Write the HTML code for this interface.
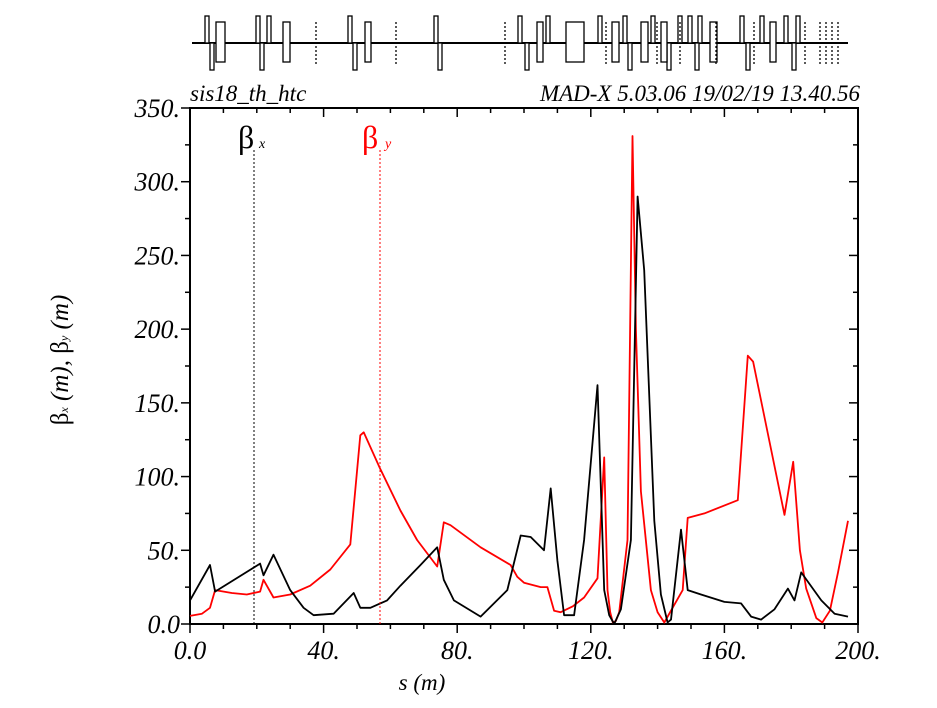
<!DOCTYPE html>
<html><head><meta charset="utf-8"><style>
html,body{margin:0;padding:0;background:#fff}
svg{display:block}
text{font-family:"Liberation Serif","DejaVu Serif",serif;font-style:italic}
.up{font-style:normal}
</style></head><body>
<svg id="chart" width="937" height="708" viewBox="0 0 937 708" xmlns="http://www.w3.org/2000/svg">
<g id="lattice"></g>
<text x="190" y="101" font-size="23">sis18_th_htc</text>
<text x="860" y="101" font-size="23" text-anchor="end">MAD-X 5.03.06  19/02/19 13.40.56</text>
<g id="axes"></g>
<g id="series"></g>
<text x="422" y="690" font-size="23" text-anchor="middle">s (m)</text>
<text transform="translate(68,360) rotate(-90)" font-size="25" text-anchor="middle"><tspan class="up">β</tspan><tspan font-size="12">x</tspan> (m),  <tspan class="up">β</tspan><tspan font-size="12">y</tspan> (m)</text>
<g>
<text x="238" y="148" font-size="32" class="up">β</text><text x="259" y="148" font-size="14">x</text>
<line x1="254" y1="150" x2="254" y2="624" stroke="#000" stroke-width="1" stroke-dasharray="2,2"/>
</g>
<g>
<text x="362" y="148" font-size="32" class="up" fill="#f00">β</text><text x="385" y="148" font-size="14" fill="#f00">y</text>
<line x1="380" y1="150" x2="380" y2="624" stroke="#f00" stroke-width="1" stroke-dasharray="2,2"/>
</g>
</svg>
<script>
const sBx=[0,6,7.5,21,22,25,30,34,37,43,49,51,54,59,63,69,74,76,79,87,95,99,102,106,108,110,112,115,118,122,124,125.5,127,129,132,134,136,139,141,143,144,147,149,153,160,165,168,171,175,179,181,183,189,193,197];
const vBx=[16,40,22,41,33,47,23,11,6,7,21,11,11,16,26,40,52,30,16,5,23,60,59,50,92,43,6,6,57,162,23,6,0,10,57,290,240,70,20,1,3,64,23,20,15,14,5,3,10,24,16,35,16,7,5];
const sBy=[0,3.6,6,7.5,12.5,17,21,22,25,30,36,42,48,51,52,57,63,68,74,76,78,87,96,98,100,105,107,109,111,114.6,118,122,124,125,125.8,126.6,127.5,128.5,131,132.5,133.5,135,138,140,142,144.5,147.5,149,154,164,167,168.6,178,180.6,182.6,184.5,187.5,189.3,191.6,194,197];
const vBy=[5.5,7,11,23,21,20,22,30,18,20,26,37,54,128,130,105,77,57,39,69,67,52,40,32,28,25,25,9,8,12,18,31,113,23,8,1,2,8,57,331,200,90,23,8,1,11,23,72,75,84,182,178,74,110,50,24,4,1,9,35,70];
const xTicks=[0,40,80,120,160,200];
const xTickLabels=["0.0","40.","80.","120.","160.","200."];
const yTicks=[0,50,100,150,200,250,300,350];
const yTickLabels=["0.0","50.","100.","150.","200.","250.","300.","350."];
const latticeUp=[207,258,269,350,436,520,548,600,625,653,680,690,700,742,762,786,798];
const latticeDown=[212,262,355,440,527,630,669,697,748,794];
const latticeBoxes=[[216,225,22,62],[283,290,22,62],[365,371,22,62],[537,543,22,62],[566,584,22,62],[612,619,22,62],[641,648,22,62],[661,667,22,62],[710,717,22,62],[770,776,22,62]];
const latticeDots=[316,396,505,606,657,680,716,754,805,820,826,832,838];

const NS="http://www.w3.org/2000/svg";
const L=190,R=858,T=108,B=624;
function X(s){return L+(s/200)*(R-L);}
function Y(v){return B-(v/350)*(B-T);}
function mk(tag,attrs,parent){const e=document.createElementNS(NS,tag);for(const k in attrs)e.setAttribute(k,attrs[k]);parent.appendChild(e);return e;}

const lat=document.getElementById('lattice');
const bl=mk('line',{x1:192,y1:43,x2:848,y2:43,stroke:'#000','stroke-width':2},lat);


latticeUp.forEach(x=>{const r=mk('rect',{x:x-2,y:16,width:4,height:27,fill:'#fff',stroke:'#000','stroke-width':1.3},lat);

});
latticeDown.forEach(x=>{const r=mk('rect',{x:x-2,y:43,width:4,height:27,fill:'#fff',stroke:'#000','stroke-width':1.3},lat);

});
latticeBoxes.forEach(b=>{const r=mk('rect',{x:b[0],y:b[2],width:b[1]-b[0],height:b[3]-b[2],fill:'#fff',stroke:'#000','stroke-width':1.3},lat);

});
latticeDots.forEach(x=>{const r=mk('line',{x1:x,y1:22,x2:x,y2:64,stroke:'#000','stroke-width':1.3,'stroke-dasharray':'2,2'},lat);

});

const ax=document.getElementById('axes');
const fr=mk('rect',{x:L,y:T,width:R-L,height:B-T,fill:'none',stroke:'#000','stroke-width':2},ax);


for(let s=0;s<=200;s+=10){const maj=s%40===0;
 const t=mk('line',{x1:X(s),y1:B,x2:X(s),y2:B+(maj?9:5),stroke:'#000','stroke-width':1.5},ax);
 
 
 const t2=mk('line',{x1:X(s),y1:T,x2:X(s),y2:T+(maj?9:5),stroke:'#000','stroke-width':1.5},ax);
 
 }
xTicks.forEach((s,i)=>{const t=mk('text',{x:X(s),y:B+35,'font-size':26,'text-anchor':'middle'},ax);t.textContent=xTickLabels[i];

});
for(let v=0;v<=350;v+=25){const maj=v%50===0;
 const t=mk('line',{x1:L-(maj?9:5),y1:Y(v),x2:L,y2:Y(v),stroke:'#000','stroke-width':1.5},ax);
 
 
 const t2=mk('line',{x1:R-(maj?9:5),y1:Y(v),x2:R,y2:Y(v),stroke:'#000','stroke-width':1.5},ax);
 
 }
yTicks.forEach((v,i)=>{const t=mk('text',{x:L-10,y:Y(v)+9,'font-size':26,'text-anchor':'end'},ax);t.textContent=yTickLabels[i];

});

const ser=document.getElementById('series');
function path(sx,vy){return sx.map((s,i)=>(i?'L':'M')+X(s).toFixed(1)+','+Y(vy[i]).toFixed(1)).join(' ');}
const py=mk('path',{d:path(sBy,vBy),fill:'none',stroke:'#f00','stroke-width':1.8,'stroke-linejoin':'round'},ser);


const px=mk('path',{d:path(sBx,vBx),fill:'none',stroke:'#000','stroke-width':1.8,'stroke-linejoin':'round'},ser);


</script>
</body></html>
